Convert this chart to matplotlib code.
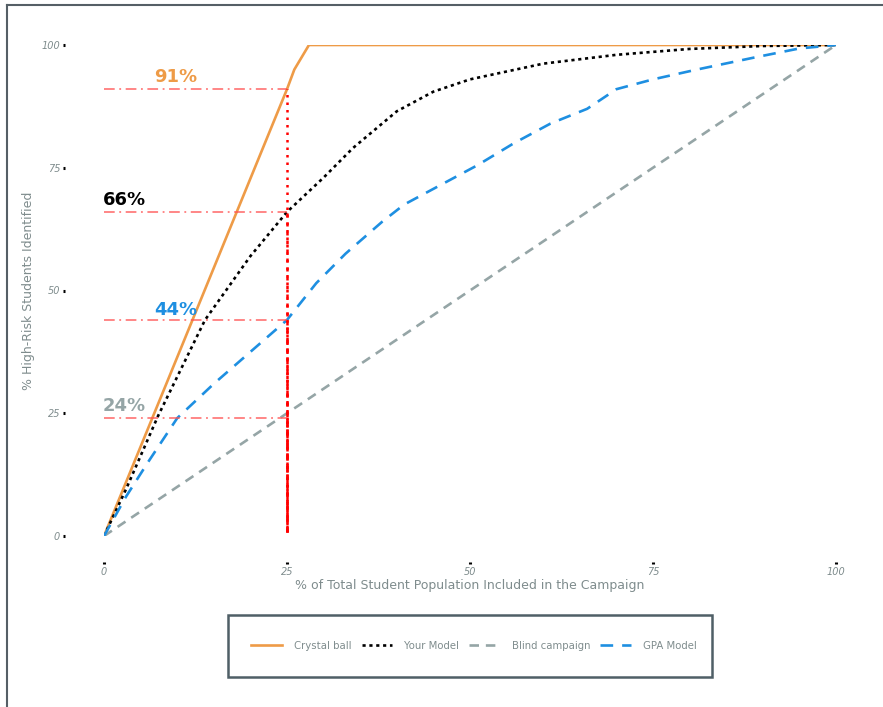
import numpy as np
import matplotlib
matplotlib.use('Agg')
from matplotlib import pyplot as plt
from matplotlib.lines import Line2D
from matplotlib.patches import Rectangle

# data
pct_pop = [0, 25, 26, 28, 100]
crystal = [0, 91, 95, 100, 100]

model_x = [0, 3, 7.4, 13.8, 20, 25, 30, 34, 40, 45, 50, 60, 70, 80, 90, 100]
model_y = [0, 9.5, 24.5, 44, 57, 66, 73, 79, 86.5, 90.5, 93, 96.2, 98, 99.2, 99.8, 100]

blind_x = [0, 100]
blind_y = [0, 100]

gpa_x = [0, 3, 6, 10, 15, 20, 25, 29, 33, 38, 41, 46, 51, 56, 61, 66, 70, 75, 81, 89, 95, 100]
gpa_y = [0, 8, 15, 24, 31, 37.5, 44, 51.5, 57.5, 64, 67.5, 71.5, 75.5, 80, 84, 87, 91, 93, 95, 97.5, 99.3, 100]

cut = 25
cut_vals = [91, 66, 44, 24]
cut_labels = ['91%', '66%', '44%', '24%']
label_pos = [(9.8, 93.5), (2.8, 68.5), (9.8, 46), (2.8, 26.5)]

orange = '#EE9B47'
gray = '#95A5A6'
blue = '#1E8FE1'
label_cols = [orange, 'black', blue, gray]
txt_col = '#7F8C8D'

fig = plt.figure(figsize=(8.83, 7.07), dpi=100)
ax = fig.add_axes([104/883, 1-536/707, 732/883, 491/707])

lw = 1.9
ax.plot(pct_pop, crystal, color=orange, lw=lw, label='Crystal ball')
ax.plot(model_x, model_y, color='black', lw=lw, dashes=(1.2, 1.4), label='Your Model')
ax.plot(blind_x, blind_y, color=gray, lw=lw, dashes=(3.6, 2.6), label='Blind campaign')
ax.plot(gpa_x, gpa_y, color=blue, lw=lw, dashes=(4.8, 3.4), label='GPA Model')

# reference lines at 25%
for i, (v, lab, pos, c) in enumerate(zip(cut_vals, cut_labels, label_pos, label_cols)):
    ax.plot([0, cut], [v, v], color='#FF5555', lw=1.1, dashes=(7, 3, 1.2, 3), alpha=0.9)
    ax.plot([cut, cut], [0.8, v], color='#FF0000', lw=1.8, dashes=(1 + i * 0.6, 2))
    ax.text(pos[0], pos[1], lab, color=c, fontsize=13, fontweight='bold',
            ha='center', va='center')

ax.set_xlim(0, 100)
ax.set_ylim(0, 100)
ax.set_xticks([0, 25, 50, 75, 100])
ax.set_yticks([0, 25, 50, 75, 100])
for s in ['top', 'right']:
    ax.spines[s].set_visible(False)
ax.spines['left'].set_position(('outward', 28))
ax.spines['bottom'].set_position(('outward', 19))
ax.spines['left'].set_color('none')
ax.spines['bottom'].set_color('none')
ax.tick_params(length=1.5, width=2.2, color='black', labelcolor=txt_col, labelsize=7)
ax.tick_params(axis='y', pad=2)
ax.tick_params(axis='x', pad=2)
for t in ax.get_xticklabels() + ax.get_yticklabels():
    t.set_fontstyle('italic')

ax.set_xlabel('% of Total Student Population Included in the Campaign',
              color=txt_col, fontsize=9, labelpad=1)
ax.set_ylabel('% High-Risk Students Identified', color=txt_col, fontsize=9, labelpad=5)

leg = ax.legend(ncol=4, loc='center', bbox_to_anchor=(474/883, 1-646/707),
                bbox_transform=fig.transFigure, fontsize=7.3, frameon=False,
                handlelength=3.0, columnspacing=1.0, handletextpad=1.2, borderaxespad=0)
for t in leg.get_texts():
    t.set_color(txt_col)

# legend box
fig.add_artist(Rectangle((228/883, 1-677/707), 484/883, 62/707, transform=fig.transFigure,
                         fill=False, edgecolor='#4F5F66', lw=1.8))

# outer border (top and left)
fig.add_artist(Line2D([7/883, 1], [1-5/707, 1-5/707], color='#555F66', lw=1.5))
fig.add_artist(Line2D([7/883, 7/883], [0, 1-5/707], color='#555F66', lw=1.5))

fig.savefig('out.png', dpi=100)
